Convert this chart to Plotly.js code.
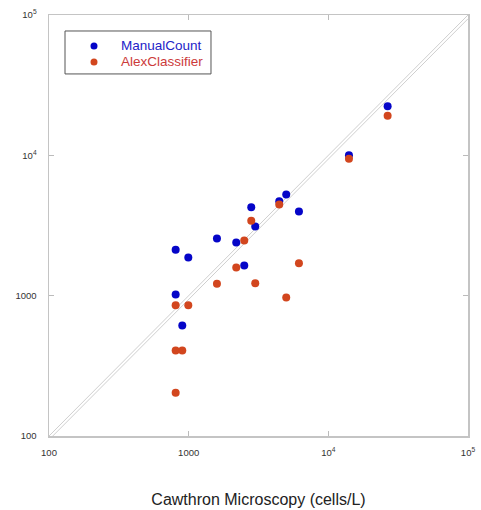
<!DOCTYPE html>
<html>
<head>
<meta charset="utf-8">
<script src="https://cdn.plot.ly/plotly-3.0.1.min.js"></script>
<style>html,body{margin:0;padding:0;background:#fff;}#chart{width:481px;height:510px;}</style>
</head>
<body>
<div id="chart"></div>
<script>
// Cawthron microscopy counts (x) vs classifier counts (y), cells/L
var manualX = [807, 807, 900, 994, 1594, 2191, 2500, 2806, 2997, 4452, 4995, 6160, 14050, 26580];
var manualY = [2124, 1020, 613, 1872, 2557, 2394, 1642, 4274, 3113, 4716, 5265, 3983, 10030, 22420];
var alexX = [807, 807, 807, 900, 994, 1594, 2191, 2500, 2806, 2997, 4452, 4995, 6160, 14050, 26580];
var alexY = [855, 407, 203, 407, 855, 1216, 1588, 2474, 3418, 1228, 4467, 971, 1704, 9460, 19160];
var refX = [100, 100000];
var refY1 = [100, 100000];
var refY2 = [94, 94000];
var tickVals = [100, 1000, 10000, 100000];
var tickText = ['100', '1000', '10<sup>4</sup>', '10<sup>5</sup>'];
var seriesNames = ['ManualCount', 'AlexClassifier'];
var xTitle = 'Cawthron Microscopy (cells/L)';

var blue = '#0505c8', orange = '#d2461e';
var lineStyle = {color: '#cfcfcf', width: 1};
var data = [
  {x: refX, y: refY1, mode: 'lines', line: lineStyle, showlegend: false, hoverinfo: 'skip'},
  {x: refX, y: refY2, mode: 'lines', line: lineStyle, showlegend: false, hoverinfo: 'skip'},
  {x: manualX, y: manualY, mode: 'markers', type: 'scatter', name: seriesNames[0],
   marker: {color: blue, size: 8}, showlegend: false},
  {x: alexX, y: alexY, mode: 'markers', type: 'scatter', name: seriesNames[1],
   marker: {color: orange, size: 8}, showlegend: false}
];

var axisCommon = {
  type: 'log',
  tickvals: tickVals,
  ticktext: tickText,
  ticks: 'inside',
  ticklen: 5,
  tickcolor: '#bbbbbb',
  showline: true,
  linecolor: '#c4c4c4',
  linewidth: 1.5,
  mirror: 'ticks',
  showgrid: false,
  zeroline: false,
  tickfont: {family: 'Liberation Sans, Arial, sans-serif', size: 9.5, color: '#333333'}
};

// custom legend (box, markers, labels) in plot-area fractions
var lgX0 = 0.0382, lgX1 = 0.3866, lgY0 = 0.860, lgY1 = 0.962;
var lgMarkX = 0.1074, lgTextX = 0.1671, lgRows = [0.9265, 0.8885];
var lgColors = [blue, orange], lgTextColors = ['#2323c8', '#cc3a3a'];

var shapes = [{type: 'rect', xref: 'paper', yref: 'paper', x0: lgX0, x1: lgX1, y0: lgY0, y1: lgY1,
               line: {color: '#555555', width: 1}, fillcolor: '#ffffff', layer: 'above'}];
var annotations = [];
for (var i = 0; i < seriesNames.length; i++) {
  shapes.push({type: 'circle', xref: 'paper', yref: 'paper',
    xsizemode: 'pixel', ysizemode: 'pixel', xanchor: lgMarkX, yanchor: lgRows[i],
    x0: -3.5, x1: 3.5, y0: -3.5, y1: 3.5,
    fillcolor: lgColors[i], line: {width: 0}, layer: 'above'});
  annotations.push({xref: 'paper', yref: 'paper', x: lgTextX, y: lgRows[i],
    xanchor: 'left', yanchor: 'middle', showarrow: false, text: seriesNames[i],
    font: {family: 'Liberation Sans, Arial, sans-serif', size: 13.5, color: lgTextColors[i]}});
}

var layout = {
  width: 481, height: 510,
  margin: {l: 49, r: 13, t: 15, b: 74, pad: 0},
  paper_bgcolor: '#ffffff', plot_bgcolor: '#ffffff',
  showlegend: false,
  xaxis: Object.assign({}, axisCommon, {
    range: [2, 5],
    ticklabelstandoff: 7,
    title: {text: xTitle, standoff: 37,
            font: {family: 'Liberation Sans, Arial, sans-serif', size: 16, color: '#222222'}}
  }),
  yaxis: Object.assign({}, axisCommon, {
    range: [2, 5],
    ticklabelstandoff: 9
  }),
  shapes: shapes,
  annotations: annotations
};

Plotly.newPlot('chart', data, layout, {displayModeBar: false, staticPlot: true});
</script>
</body>
</html>
